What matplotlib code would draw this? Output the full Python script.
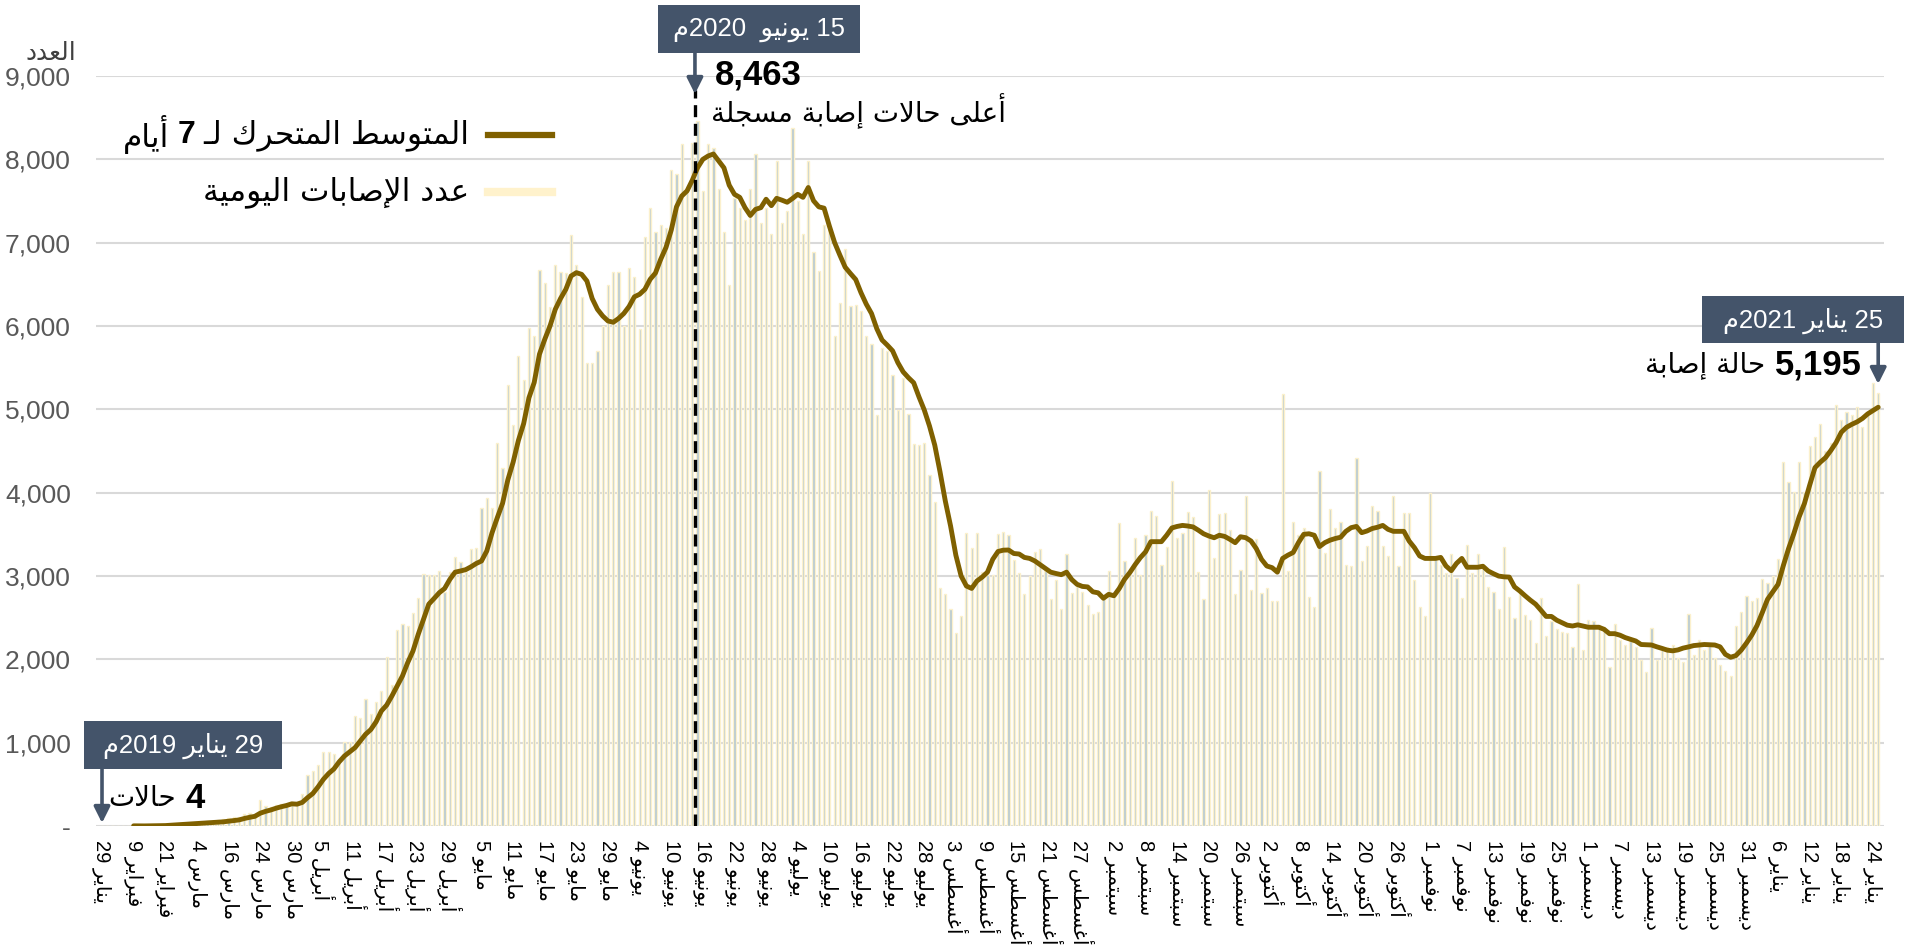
import re
import numpy as np
import matplotlib
matplotlib.use('Agg')
import matplotlib.pyplot as plt
from matplotlib.lines import Line2D
from matplotlib.patches import Rectangle

W, H = 1928, 948
AR = ['DejaVu Sans']
NUM = ['Liberation Sans', 'DejaVu Sans']
BOX = '#44546A'
OLIVE = '#7F6000'

# --- simple arabic shaping (presentation forms) + rtl ordering ---
_dual = {'ئ': 0xFE89, 'ب': 0xFE8F, 'ت': 0xFE95, 'ث': 0xFE99, 'ج': 0xFE9D, 'ح': 0xFEA1,
         'خ': 0xFEA5, 'س': 0xFEB1, 'ش': 0xFEB5, 'ص': 0xFEB9, 'ض': 0xFEBD, 'ط': 0xFEC1,
         'ظ': 0xFEC5, 'ع': 0xFEC9, 'غ': 0xFECD, 'ف': 0xFED1, 'ق': 0xFED5, 'ك': 0xFED9,
         'ل': 0xFEDD, 'م': 0xFEE1, 'ن': 0xFEE5, 'ه': 0xFEE9, 'ي': 0xFEF1}
_right = {'آ': 0xFE81, 'أ': 0xFE83, 'ؤ': 0xFE85, 'إ': 0xFE87, 'ا': 0xFE8D, 'ة': 0xFE93,
          'د': 0xFEA9, 'ذ': 0xFEAB, 'ر': 0xFEAD, 'ز': 0xFEAF, 'و': 0xFEED, 'ى': 0xFEEF}
_lamalef = {'آ': 0xFEF5, 'أ': 0xFEF7, 'إ': 0xFEF9, 'ا': 0xFEFB}
TATWEEL = 'ـ'


def shape(s):
    out = []
    i = 0
    while i < len(s):
        c = s[i]
        prev = s[i - 1] if i > 0 else ''
        nxt = s[i + 1] if i + 1 < len(s) else ''
        jp = prev in _dual or prev == TATWEEL
        if c == 'ل' and nxt in _lamalef:
            out.append(chr(_lamalef[nxt] + (1 if jp else 0)))
            i += 2
            continue
        if c in _dual:
            jn = nxt in _dual or nxt in _right or nxt == TATWEEL
            out.append(chr(_dual[c] + {(0, 0): 0, (1, 0): 1, (0, 1): 2, (1, 1): 3}[(int(jp), int(jn))]))
        elif c in _right:
            out.append(chr(_right[c] + (1 if jp else 0)))
        else:
            out.append(c)
        i += 1
    return ''.join(out)


def ar(s):
    parts = re.findall(r'[0-9][0-9,.]*|.', shape(s))
    return ''.join(reversed(parts))


# --- data ---
daily = [4, 1, 2, 1, 0, 1, 3, 2, 1, 4, 5, 8, 12, 30, 25, 40, 28, 35, 45, 30,
         55, 62, 70, 85, 95, 110, 105, 140, 160, 150,
         313, 245, 230, 250, 270, 265, 290, 285,
         390, 614, 655, 732, 891, 891, 862, 744, 1009, 1009, 1316, 1293, 1529, 1346, 1494, 1617,
         2025, 1688, 2355, 2426, 2397, 2556, 2733, 3028, 3016, 3016, 3064, 2810, 3046, 3223, 3164,
         3046, 3323, 3341, 3813, 3931, 3813, 4593, 4297, 5289, 4817, 5643, 5348, 5980, 5880, 6677,
         6517, 6230, 6736, 6647, 6635, 7090, 6736, 6352, 5555, 5555, 5702, 5998, 6488, 6647, 6647,
         5998, 6700, 6588, 5968, 7072, 7414, 7131, 7208, 7178, 7875, 7828, 8182, 7621, 8200, 8463,
         7621, 8182, 8135, 7639, 7131, 6488, 7532, 7414, 7267, 7639, 8064, 7237, 7414, 7107, 7975,
         7237, 7385, 8371, 7503, 7107, 7975, 6883, 6665, 7208, 7149, 5880, 6275, 6924, 6234, 6251,
         6175, 5880, 5779, 4935, 5732, 5702, 5407, 4994, 5378, 4947, 4581, 4569, 4593, 4209, 3890,
         2851, 2780, 2603, 2320, 2515, 3518, 3341, 3518, 3046,
         3016, 3016, 3501, 3530, 3489, 3194, 3034, 2780, 2999, 3294,
         3323, 3058, 2721, 2957, 2603, 3270, 2798, 2881, 2810, 2651,
         2544, 2574, 2739, 3064, 2780, 3636, 3176, 3016, 3459, 3016,
         3489, 3784, 3725, 3135, 3353, 4138, 3459, 3518, 3766, 3707,
         3046, 2721, 4032, 3211, 3743, 3754, 3548, 2780, 3076, 3961,
         2828, 3441, 2792, 2851, 2704, 2704, 5189, 3064, 3654, 3489,
         3577, 2751, 2633, 4256, 3282, 3802, 3577, 3654, 3135, 3117,
         4416, 3176, 3359, 3843, 3784, 3359, 3235, 3961, 3117, 3754,
         3754, 2957, 2633, 2515, 3991,
         3223, 3135, 3034, 3264, 2975, 2733, 3371, 3034, 3270, 3135,
         2869, 2810, 2603, 3353, 2751, 2497, 2780, 2527, 2468, 2202,
         2739, 2279, 2456, 2367, 2326, 2320, 2149, 2910, 2113, 2468,
         2456, 2408, 2385, 1913, 2426, 2231, 2172, 2220, 2149, 1995,
         1854, 2379, 1995, 2131, 2149, 2172, 2013, 1972, 2544, 2054,
         2237, 2113, 2172, 2013, 1936, 1865, 1806, 2397, 2574, 2763,
         2704, 2733, 2969, 2916, 2999, 3205, 4362, 4126, 4002, 4362,
         4008, 4563, 4669, 4829, 4504, 4593, 5053, 4876, 4965, 4935,
         5024, 4787, 4965, 5319, 5195]

# 7-day moving average, starts at the 7th row
ma7 = [2, 1, 1, 2, 2, 3, 5, 9, 12, 18, 21, 25, 30, 32, 37, 42, 46, 50, 57, 65, 73, 90, 104, 116,
       153, 175, 192, 213, 231, 246, 266, 262, 283,
       340, 390, 470, 560, 630, 685, 770, 840, 890, 940,
       1020, 1100, 1157, 1250, 1380, 1450, 1560, 1680, 1800, 1960,
       2100, 2300, 2480, 2662, 2730, 2800, 2850, 2960, 3046, 3060,
       3076, 3110, 3150, 3180, 3300, 3518, 3700, 3873, 4154, 4365,
       4626, 4829, 5138, 5322, 5662,
       5840, 6000, 6200, 6330, 6440, 6600, 6640, 6620, 6540, 6330, 6200, 6120, 6060, 6045,
       6090, 6150, 6234, 6350, 6381, 6440, 6560, 6635, 6800, 6942, 7150, 7430, 7560, 7621,
       7750, 7900, 8000, 8040, 8064, 7980, 7898, 7690, 7580, 7544, 7420, 7326, 7400, 7420,
       7521, 7444, 7532, 7510, 7485, 7530, 7580, 7544, 7662, 7503, 7430, 7414, 7200, 7001,
       6850, 6706, 6630, 6558, 6400, 6263, 6150, 5968, 5832, 5770, 5702, 5560, 5450, 5380,
       5319, 5150, 4994, 4800, 4570, 4250, 3900, 3600, 3250, 3000, 2880, 2851, 2940, 2987,
       3046, 3200, 3294, 3310, 3312, 3270, 3264, 3223, 3211, 3180,
       3135, 3090, 3046, 3030, 3016, 3046, 2957, 2900, 2875, 2869,
       2810, 2798, 2733, 2780, 2763, 2850, 2960, 3040, 3135, 3220,
       3290, 3412, 3412, 3412, 3489, 3577, 3595, 3607, 3600, 3589,
       3550, 3507, 3480, 3459, 3489, 3475, 3440, 3400, 3471, 3460,
       3420, 3329, 3200, 3120, 3100, 3046, 3211, 3250, 3282, 3400,
       3500, 3507, 3489, 3353, 3400, 3430, 3450, 3465, 3536, 3580,
       3595, 3520, 3540, 3570, 3585, 3607, 3560, 3536, 3536, 3536,
       3420, 3341, 3240, 3211, 3211,
       3211, 3223, 3120, 3064, 3152, 3211, 3105, 3105, 3105, 3117,
       3060, 3028, 2999, 2990, 2987, 2869, 2820, 2763, 2710, 2662,
       2590, 2515, 2515, 2470, 2440, 2410, 2400, 2414, 2400, 2385,
       2385, 2385, 2360, 2308, 2308, 2290, 2261, 2240, 2220, 2178,
       2175, 2172, 2150, 2131, 2110, 2102, 2113, 2135, 2149, 2165,
       2172, 2178, 2175, 2172,
       2150, 2060, 2025, 2045, 2110, 2195, 2290, 2405, 2560, 2720,
       2810, 2900, 3125, 3330, 3510, 3710, 3870, 4090, 4300, 4365,
       4420, 4505, 4600, 4725, 4785, 4820, 4850, 4890, 4945, 4985, 5025]

tick_days = [29, 9, 21, 4, 16, 24, 30, 5, 11, 17, 23, 29, 5, 11, 17, 23, 29, 4, 10, 16, 22, 28,
             4, 10, 16, 22, 28, 3, 9, 15, 21, 27, 2, 8, 14, 20, 26, 2, 8, 14, 20, 26,
             1, 7, 13, 19, 25, 1, 7, 13, 19, 25, 31, 6, 12, 18, 24]
tick_months = (['يناير'] + ['فبراير'] * 2 + ['مارس'] * 4 + ['أبريل'] * 5 + ['مايو'] * 5 +
               ['يونيو'] * 5 + ['يوليو'] * 5 + ['أغسطس'] * 5 + ['سبتمبر'] * 5 +
               ['أكتوبر'] * 5 + ['نوفمبر'] * 5 + ['ديسمبر'] * 6 + ['يناير'] * 4)
peak_row = 113

# --- figure ---
fig = plt.figure(figsize=(W / 100, H / 100), dpi=100)
ax = fig.add_axes([96 / W, (H - 826) / H, (1884 - 96) / W, (826 - 76) / H])

x = np.arange(len(daily))
ax.bar(x, daily, width=0.42, color='#B3C8D2', edgecolor='#FBF0CC', linewidth=1.0, zorder=2)
x_ma = np.arange(len(daily) - len(ma7), len(daily))
ax.plot(x_ma, ma7, color=OLIVE, lw=3.5, solid_joinstyle='round', solid_capstyle='round', zorder=4)

ax.set_xlim(-1.14, 338.1)
ax.set_ylim(0, 9000)
ax.set_yticks(range(0, 9001, 1000))
ax.set_yticklabels(['-' if v == 0 else f'{v:,}' for v in range(0, 9001, 1000)],
                   family=NUM, fontsize=19, color='#595959')
ax.yaxis.grid(True, color='#D9D9D9', lw=1.5, zorder=0)
ax.set_axisbelow(True)
for s in ax.spines.values():
    s.set_visible(False)
ax.tick_params(axis='y', length=0, pad=18)
ax.tick_params(axis='x', length=0, pad=10)
ax.set_xticks(np.arange(0, len(daily), 6))
ax.set_xticklabels([f'{d} {ar(m)}' for d, m in zip(tick_days, tick_months)],
                   rotation=-90, ha='center', va='top', family=NUM, fontsize=14.5)

# dashed line at the peak
ax.plot([peak_row - 0.5, peak_row - 0.5], [0, 8830], color='black', lw=2.4,
        linestyle=(0, (3.6, 2)), zorder=5)


def px(xp, yp):
    return xp / W, 1 - yp / H


def box(x0, y0, x1, y1, text):
    fig.add_artist(Rectangle(px(x0, y1), (x1 - x0) / W, (y1 - y0) / H,
                             transform=fig.transFigure, facecolor=BOX, edgecolor='none'))
    fig.text(*px((x0 + x1) / 2, (y0 + y1) / 2 + 1), text, ha='center', va='center',
             color='white', family=NUM, fontsize=18.5)


def arrow(xd, y_top, y_tip):
    ax.annotate('', xy=(xd, y_tip), xytext=(xd, y_top), annotation_clip=False,
                arrowprops=dict(arrowstyle='-|>', color=BOX, lw=2.6, mutation_scale=24,
                                shrinkA=0, shrinkB=0), zorder=6)


def to_val(yp):
    return (826 - yp) / 750 * 9000


renderer = fig.canvas.get_renderer()


def rtl_row(x_right, y, pieces, gap=8):
    for s, kw in pieces:
        t = fig.text(*px(x_right, y), s, ha='right', va='center', **kw)
        x_right -= t.get_window_extent(renderer=renderer).width + gap


bold = dict(family=NUM, fontweight='bold', fontsize=25, color='black')
reg = dict(family=AR, fontsize=20, color='black')

# peak annotation
box(658, 5, 860, 53, ar('15 يونيو  2020م'))
arrow(peak_row - 0.5, to_val(53), to_val(94))
fig.text(*px(715, 75), '8,463', ha='left', va='center', **bold)
fig.text(*px(1006, 111), ar('أعلى حالات إصابة مسجلة'), ha='right', va='center',
         family=AR, fontsize=20, color='black')

# last day annotation
box(1702, 296, 1904, 343, ar('25 يناير 2021م'))
arrow(len(daily) - 1, to_val(343), to_val(384))
rtl_row(1862, 365, [('5,195', bold), (ar('حالة إصابة'), reg)], gap=10)

# first day annotation
box(84, 721, 282, 769, ar('29 يناير 2019م'))
arrow(0, to_val(769), to_val(823))
rtl_row(205, 798, [('4', bold), (ar('حالات'), reg)], gap=10)

# axis title
fig.text(*px(76, 53), ar('العدد'), ha='right', va='center', family=AR, fontsize=18, color='#404040')

# legend
leg_kw = dict(family=AR, fontsize=22.5, color='black')
fig.add_artist(Line2D([488 / W, 552 / W], [1 - 135 / H] * 2, transform=fig.transFigure,
                      color=OLIVE, lw=4.5))
fig.add_artist(Line2D([488 / W, 552 / W], [1 - 192 / H] * 2, transform=fig.transFigure,
                      color='#FFF2CC', lw=6))
rtl_row(469, 135, [(ar('المتوسط المتحرك لـ'), leg_kw),
                   ('7', dict(family=NUM, fontweight='bold', fontsize=23, color='black')),
                   (ar('أيام'), leg_kw)], gap=8)
fig.text(*px(469, 192), ar('عدد الإصابات اليومية'), ha='right', va='center', **leg_kw)

fig.savefig('out.png', dpi=100)
